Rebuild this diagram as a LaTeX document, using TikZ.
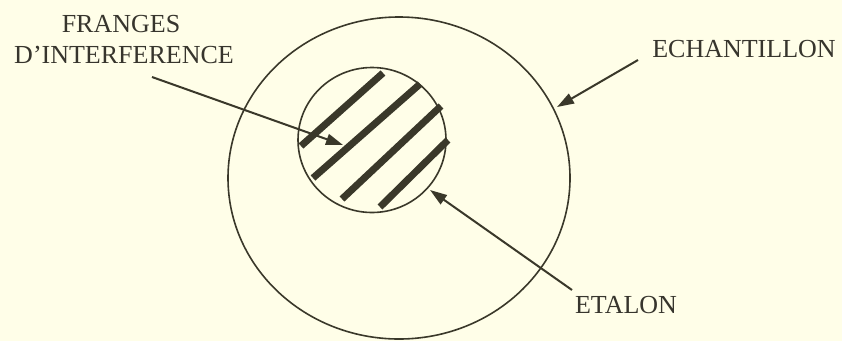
\documentclass[tikz,border=0pt]{standalone}
\usepackage{fontspec}
\setmainfont{Liberation Serif}
\usetikzlibrary{arrows.meta,shapes.geometric}
\definecolor{paper}{RGB}{255,254,232}
\definecolor{ink}{RGB}{58,56,42}
\definecolor{txt}{RGB}{55,53,45}
\tikzset{
  lbl/.style={inner sep=0pt, anchor=base, text=txt, font=\fontsize{26}{31}\selectfont},
  ring/.style={draw=ink, line width=1.6pt, ellipse, inner sep=0pt},
  stripe/.style={draw=ink, line width=7pt, line cap=butt},
  pointer/.style={draw=ink, line width=2pt, -{Triangle[length=17pt,width=11pt]}}
}
\begin{document}
\begin{tikzpicture}[x=1pt,y=-1pt]
\fill[paper] (0,0) rectangle (842,341);
\useasboundingbox (0,0) rectangle (842,341);
% circles
\node[ring, minimum width=342pt, minimum height=322pt] (outer) at (399,178) {};
\node[ring, minimum width=148pt, minimum height=145pt] (inner) at (372,140) {};
% fringes
\draw[stripe] (301,146) -- (383,73);
\draw[stripe] (313,178) -- (420,84);
\draw[stripe] (342,199) -- (441,106);
\draw[stripe] (380,207) -- (448,140);
% labels
\node[lbl] (fr1) at (121,32) {FRANGES};
\node[lbl] (fr2) at (124,63) {D'INTERFERENCE};
\node[lbl] (ech) at (744,57) {ECHANTILLON};
\node[lbl] (eta) at (626,313) {ETALON};
% connector end points
\coordinate (frA) at (152,77);
\coordinate (frB) at (343,145);
\coordinate (echA) at (638,60);
\coordinate (echB) at (557,107);
\coordinate (etaA) at (572,290);
\coordinate (etaB) at (430,190);
\draw[pointer] (frA) -- (frB);
\draw[pointer] (echA) -- (echB);
\draw[pointer] (etaA) -- (etaB);
\end{tikzpicture}
\end{document}
